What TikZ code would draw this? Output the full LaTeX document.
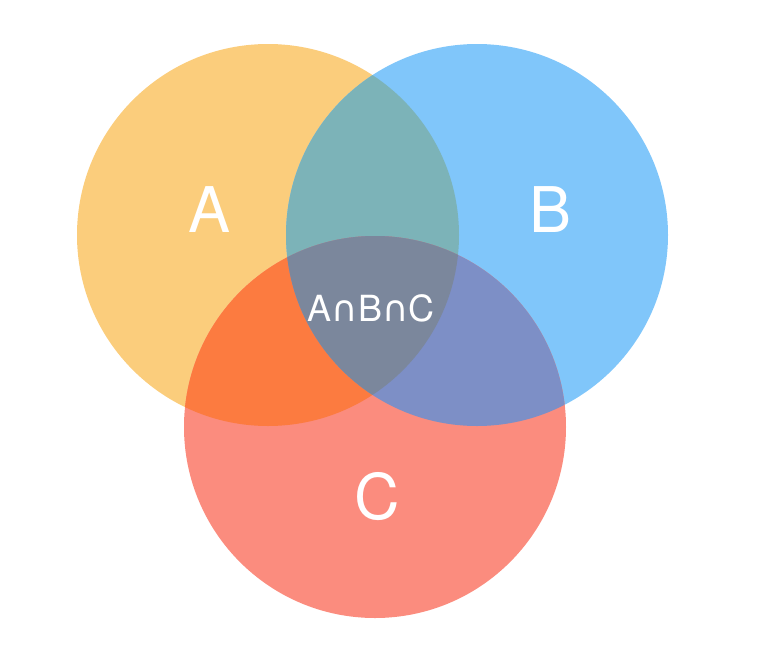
\documentclass[tikz,border=0pt]{standalone}
\usepackage{fontspec}
\setmainfont{TeX Gyre Heros}
\newfontfamily\symfont{DejaVu Sans}
\definecolor{cA}{HTML}{FBCD7C}
\definecolor{cB}{HTML}{80C6FA}
\definecolor{cC}{HTML}{FB8C7E}
\definecolor{cAB}{HTML}{7CB3B8}
\definecolor{cAC}{HTML}{FC7B40}
\definecolor{cBC}{HTML}{7D8FC6}
\definecolor{cABC}{HTML}{7B879C}
\begin{document}
\begin{tikzpicture}[x=1pt,y=-1pt,
  lbl/.style={text=white,font=\fontsize{63}{63}\selectfont,inner sep=0pt},
  mid/.style={text=white,font=\fontsize{36}{36}\selectfont,inner sep=0pt}]
\useasboundingbox (0,0) rectangle (782,646);
\def\rad{191}
\coordinate (ca) at (268,235);
\coordinate (cb) at (477,235);
\coordinate (cc) at (375,427);
\fill[cA] (ca) circle[radius=\rad];
\fill[cB] (cb) circle[radius=\rad];
\fill[cC] (cc) circle[radius=\rad];
\begin{scope}
  \clip (ca) circle[radius=\rad];
  \fill[cAB] (cb) circle[radius=\rad];
  \fill[cAC] (cc) circle[radius=\rad];
\end{scope}
\begin{scope}
  \clip (cb) circle[radius=\rad];
  \fill[cBC] (cc) circle[radius=\rad];
\end{scope}
\begin{scope}
  \clip (ca) circle[radius=\rad];
  \clip (cb) circle[radius=\rad];
  \fill[cABC] (cc) circle[radius=\rad];
\end{scope}
\node[lbl] (la) at (210,210) {A};
\node[lbl] (lb) at (551,210) {B};
\node[lbl] (lc) at (377,497) {C};
\node[mid] (labc) at (371,308) {A{\symfont ∩}B{\symfont ∩}C};
\end{tikzpicture}
\end{document}
